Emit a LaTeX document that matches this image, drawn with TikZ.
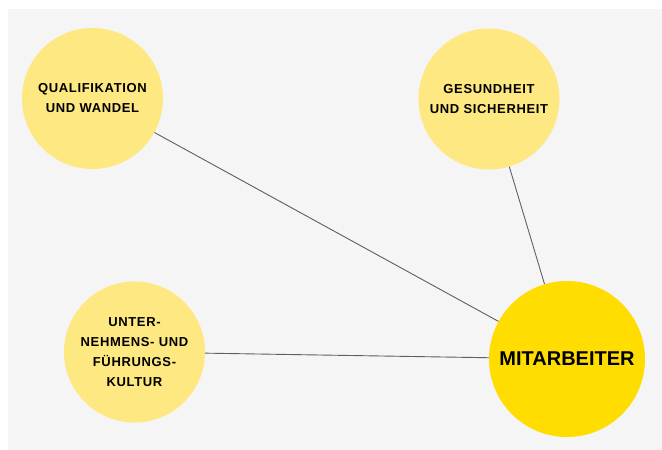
\documentclass[tikz,border=0pt]{standalone}
\usepackage{fontspec}
\setmainfont{Liberation Sans}
\usepackage{tikz}
\definecolor{bggray}{HTML}{F5F5F5}
\definecolor{lightyellow}{HTML}{FEE882}
\definecolor{darkyellow}{HTML}{FFDD00}
\definecolor{linegray}{HTML}{5E5E5E}

\begin{document}
\begin{tikzpicture}[x=1pt, y=-1pt,
		topic/.style={circle, fill=lightyellow, minimum size=141pt, inner sep=0pt, align=center,
			font=\fontsize{13}{20}\selectfont\bfseries\addfontfeatures{LetterSpace=5}},
		centre/.style={circle, fill=darkyellow, minimum size=156pt, inner sep=0pt,
			font=\fontsize{20}{22}\selectfont\bfseries},
		link/.style={draw=linegray, line width=0.9pt}]
			\useasboundingbox (0,0) rectangle (662,450);
			\fill[bggray] (8,9) rectangle (662,450);
			\node[topic] (quali) at (92.5,98.5) {QUALIFIKATION\\UND WANDEL};
			\node[topic] (gesund) at (489,99) {GESUNDHEIT\\UND SICHERHEIT};
			\node[topic] (kultur) at (134.5,352) {UNTER-\\NEHMENS- UND\\FÜHRUNGS-\\KULTUR};
			\node[centre] (mitarb) at (567,359) {MITARBEITER};
			\draw[link] (quali)--(mitarb);
			\draw[link] (gesund)--(mitarb);
			\draw[link] (kultur)--(mitarb);
		\end{tikzpicture}
\end{document}
